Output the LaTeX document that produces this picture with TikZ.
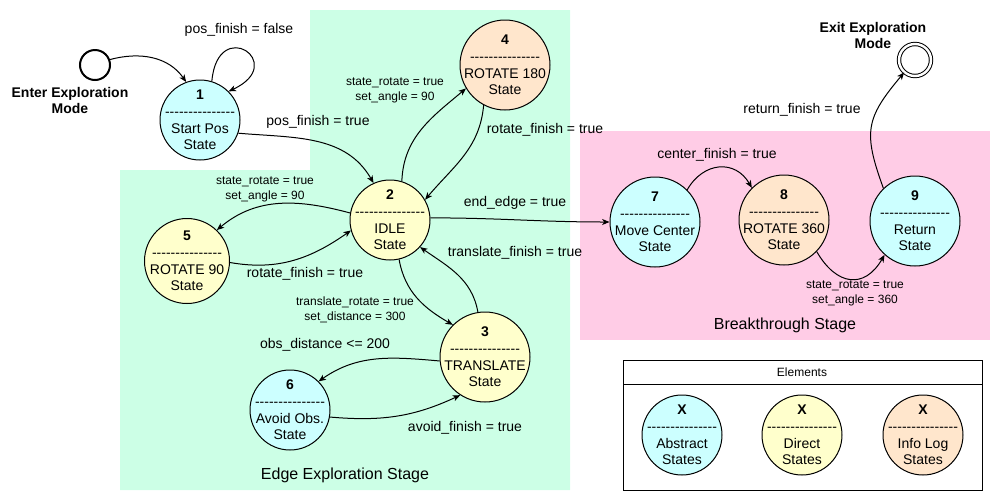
\documentclass[tikz,border=0pt]{standalone}
\usepackage{fontspec}
\setmainfont{Liberation Sans}
\usetikzlibrary{arrows.meta}

\definecolor{abstractfill}{HTML}{CCFFFF}
\definecolor{directfill}{HTML}{FFFFCC}
\definecolor{logfill}{HTML}{FFE6CC}
\definecolor{edgestage}{HTML}{CCFFE6}
\definecolor{breakstage}{HTML}{FFCCE6}

\newcommand\hyrow{-\kern0pt-\kern0pt-\kern0pt-\kern0pt-\kern0pt-\kern0pt-\kern0pt-\kern0pt-\kern0pt-\kern0pt-\kern0pt-\kern0pt-\kern0pt-\kern0pt-}
\newcommand\statebody[3]{\textbf{#1}\\\hyrow\\#2\\#3}

\begin{document}
\begin{tikzpicture}[x=0.75pt,y=0.75pt,
  state/.style={circle,draw,line width=0.75pt,minimum size=60pt,inner sep=-4pt,align=center,font=\fontsize{10.5}{12.5}\selectfont},
  large/.style={minimum size=67.5pt},
  abstract/.style={state,fill=abstractfill},
  direct/.style={state,fill=directfill},
  infolog/.style={state,fill=logfill},
  cond/.style={inner sep=0pt,font=\fontsize{10.5}{12.5}\selectfont},
  setting/.style={inner sep=0pt,align=center,font=\fontsize{9}{11.25}\selectfont},
  stage/.style={inner sep=0pt,font=\fontsize{12}{14}\selectfont},
  mode/.style={inner sep=0pt,align=center,font=\bfseries\fontsize{10.5}{12}\selectfont},
  trans/.style={-{Stealth[length=5.5pt,width=4.5pt,inset=1.5pt]},line width=0.75pt}]

  \useasboundingbox (0,0) rectangle (1001,-501);
  \fill[edgestage] (310,-10) -- (570,-10) -- (570,-490) -- (120,-490) -- (120,-170) -- (310,-170) -- cycle;
  \fill[breakstage] (580,-131) rectangle (990,-340);
  \node[stage] (edgestagelbl) at (345,-475) {Edge Exploration Stage};
  \node[stage] (breakstagelbl) at (785,-325) {Breakthrough Stage};

  \node[circle,draw,line width=1.5pt,minimum size=22.5pt,inner sep=0pt] (enter) at (95,-65) {};
  \node[mode] (enterlbl) at (70,-100) {Enter Exploration\\Mode};
  \node[circle,draw,double,double distance=1.8pt,line width=0.75pt,minimum size=24pt,inner sep=0pt] (exit) at (915,-60) {};
  \node[mode] (exitlbl) at (873,-35) {Exit Exploration\\Mode};

  \node[abstract] (startpos) at (200,-120) {\statebody{1}{Start Pos}{State}};
  \node[direct] (idle) at (390,-220) {\statebody{2}{IDLE}{State}};
  \node[direct,large] (transl) at (485,-357) {\statebody{3}{TRANSLATE}{State}};
  \node[infolog,large] (rothalf) at (505,-65) {\statebody{4}{ROTATE 180}{State}};
  \node[direct,minimum size=63.75pt] (rotquarter) at (187,-261) {\statebody{5}{ROTATE 90}{State}};
  \node[abstract] (avoid) at (290,-410) {\statebody{6}{Avoid Obs.}{State}};
  \node[abstract,large] (center) at (655,-222) {\statebody{7}{Move Center}{State}};
  \node[infolog,large] (rotfull) at (784,-220) {\statebody{8}{ROTATE 360}{State}};
  \node[abstract,large] (return) at (915,-221) {\statebody{9}{Return}{State}};

  \draw[trans] (enter.20) to[out=15,in=125] (startpos.110);
  \draw[trans] (startpos.73) to[out=85,in=25,distance=50pt] (startpos.45);
  \draw[trans] (startpos.-19) to[out=-5,in=120] (idle.114);
  \draw[trans] (idle.73) to[out=88,in=220] (rothalf.211);
  \draw[trans] (rothalf.242) to[out=-95,in=50] (idle.30);
  \draw[trans] (idle.170) to[out=165,in=40] (rotquarter.46);
  \draw[trans] (rotquarter.-2) to[out=-10,in=215] (idle.195);
  \draw[trans] (idle.-77) to[out=-80,in=150] (transl.135);
  \draw[trans] (transl.99) to[out=100,in=-35] (idle.-42);
  \draw[trans] (transl.185) to[out=175,in=35] (avoid.45);
  \draw[trans] (avoid.-10) to[out=-5,in=205] (transl.237);
  \draw[trans] (idle.3) to[out=0,in=180] (center.180);
  \draw[trans] (center.45) to[out=60,in=120,looseness=1.3] (rotfull.135);
  \draw[trans] (rotfull.-44) to[out=-60,in=-120,looseness=1.5] (return.-132);
  \draw[trans] (return.134) to[out=110,in=-130,looseness=1.3] (exit.-131);

  \node[cond] (posfalse) at (239,-30) {pos\_finish = false};
  \node[cond] (postrue) at (318,-122) {pos\_finish = true};
  \node[setting] (halfset) at (395,-90) {state\_rotate = true\\set\_angle = 90};
  \node[cond] (halfdone) at (545,-130) {rotate\_finish = true};
  \node[cond] (edgedone) at (515,-203) {end\_edge = true};
  \node[setting] (quarterset) at (265,-189) {state\_rotate = true\\set\_angle = 90};
  \node[cond] (quarterdone) at (305,-274) {rotate\_finish = true};
  \node[setting] (translset) at (355,-310) {translate\_rotate = true\\set\_distance = 300};
  \node[cond] (transldone) at (515,-253) {translate\_finish = true};
  \node[cond] (obsnear) at (325,-345) {obs\_distance <= 200};
  \node[cond] (avoiddone) at (465,-428) {avoid\_finish = true};
  \node[cond] (centerdone) at (717,-155) {center\_finish = true};
  \node[setting] (fullset) at (855,-293) {state\_rotate = true\\set\_angle = 360};
  \node[cond] (returndone) at (802,-110) {return\_finish = true};

  \draw[line width=0.75pt] (623,-360) rectangle (982,-490);
  \draw[line width=0.75pt] (623,-384) -- (982,-384);
  \node[inner sep=0pt,font=\fontsize{9}{11}\selectfont] (elements) at (802,-372) {Elements};
  \node[abstract] (keyabstract) at (682,-435) {\statebody{X}{Abstract}{States}};
  \node[direct] (keydirect) at (802,-435) {\statebody{X}{Direct}{States}};
  \node[infolog] (keylog) at (923,-435) {\statebody{X}{Info Log}{States}};
\end{tikzpicture}
\end{document}
